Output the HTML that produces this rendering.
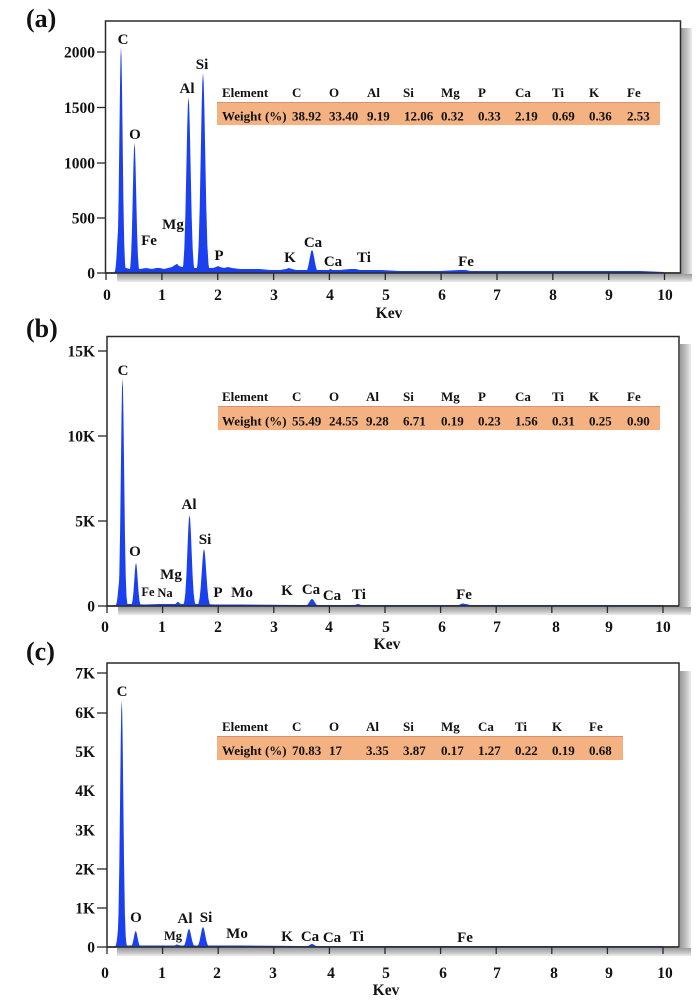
<!DOCTYPE html>
<html><head><meta charset="utf-8"><style>
html,body{margin:0;padding:0;background:#fff;}
svg{display:block;}
text{font-family:"Liberation Serif",serif;font-weight:bold;fill:#111;}
.t{font-size:15.5px;}
.p{font-size:15px;}
.s{font-size:12.5px;}
.tb{font-size:13px;}
.L{font-size:26px;}
</style></head><body>
<svg width="700" height="1008" viewBox="0 0 700 1008" xmlns="http://www.w3.org/2000/svg">
<defs>
<linearGradient id="shR" x1="0" y1="0" x2="1" y2="0">
<stop offset="0" stop-color="#9a9a9a"/><stop offset="0.55" stop-color="#c2c2c2"/><stop offset="1" stop-color="#ededed"/>
</linearGradient>
<linearGradient id="shB" x1="0" y1="0" x2="0" y2="1">
<stop offset="0" stop-color="#9a9a9a"/><stop offset="0.55" stop-color="#c2c2c2"/><stop offset="1" stop-color="#ededed"/>
</linearGradient>
</defs>
<rect width="700" height="1008" fill="#fff"/>

<!-- ============ PANEL A ============ -->
<text class="L" x="26" y="27">(a)</text>
<rect x="681" y="28" width="11" height="254" fill="url(#shR)"/>
<rect x="117" y="274" width="575" height="8" fill="url(#shB)"/>
<rect x="105.5" y="21" width="575" height="252" fill="#fff" stroke="#2a2a2a" stroke-width="1.5"/>
<g fill="#1a40f0">
<path d="M117,273 L117,270 L124,269 L126,268 L130,269 L134,268 L140,269 L146,268 L152,269 L156,268 L160,268 L164,269 L168,268 L172,267 L175,265 L177,264 L179,266 L182,267 L186,267 L195,268 L208,268 L213,268 L216,267 L218,266 L220,267 L224,268 L228,267 L232,268 L240,269 L250,269 L260,269 L270,270 L280,270 L286,269 L289,268 L292,269 L296,270 L300,270 L320,270 L340,270 L350,269 L356,269 L360,270 L380,270 L400,271 L440,271 L460,270 L466,270 L470,271 L500,271 L520,271 L560,271 L600,271 L640,271 L664,272 L664,273 Z"/>
<path id="g" d="M-3.6,0 L-3,0.011 L-2.5,0.044 L-2,0.135 L-1.5,0.325 L-1,0.607 L-0.6,0.835 L-0.3,0.956 L0,1 L0.3,0.956 L0.6,0.835 L1,0.607 L1.5,0.325 L2,0.135 L2.5,0.044 L3,0.011 L3.6,0 Z" transform="translate(121,273) scale(1.6,-226)"/>
<path d="M-3.6,0 L-3,0.011 L-2.5,0.044 L-2,0.135 L-1.5,0.325 L-1,0.607 L-0.6,0.835 L-0.3,0.956 L0,1 L0.3,0.956 L0.6,0.835 L1,0.607 L1.5,0.325 L2,0.135 L2.5,0.044 L3,0.011 L3.6,0 Z" transform="translate(118.5,273) scale(1.4,-45)"/>
<path d="M-3.6,0 L-3,0.011 L-2.5,0.044 L-2,0.135 L-1.5,0.325 L-1,0.607 L-0.6,0.835 L-0.3,0.956 L0,1 L0.3,0.956 L0.6,0.835 L1,0.607 L1.5,0.325 L2,0.135 L2.5,0.044 L3,0.011 L3.6,0 Z" transform="translate(134.5,273) scale(1.7,-130)"/>
<path d="M-3.6,0 L-3,0.011 L-2.5,0.044 L-2,0.135 L-1.5,0.325 L-1,0.607 L-0.6,0.835 L-0.3,0.956 L0,1 L0.3,0.956 L0.6,0.835 L1,0.607 L1.5,0.325 L2,0.135 L2.5,0.044 L3,0.011 L3.6,0 Z" transform="translate(177,273) scale(2,-9)"/>
<path d="M-3.6,0 L-3,0.011 L-2.5,0.044 L-2,0.135 L-1.5,0.325 L-1,0.607 L-0.6,0.835 L-0.3,0.956 L0,1 L0.3,0.956 L0.6,0.835 L1,0.607 L1.5,0.325 L2,0.135 L2.5,0.044 L3,0.011 L3.6,0 Z" transform="translate(188.5,273) scale(2.1,-176)"/>
<path d="M-3.6,0 L-3,0.011 L-2.5,0.044 L-2,0.135 L-1.5,0.325 L-1,0.607 L-0.6,0.835 L-0.3,0.956 L0,1 L0.3,0.956 L0.6,0.835 L1,0.607 L1.5,0.325 L2,0.135 L2.5,0.044 L3,0.011 L3.6,0 Z" transform="translate(203,273) scale(2.2,-200)"/>
<path d="M-3.6,0 L-3,0.011 L-2.5,0.044 L-2,0.135 L-1.5,0.325 L-1,0.607 L-0.6,0.835 L-0.3,0.956 L0,1 L0.3,0.956 L0.6,0.835 L1,0.607 L1.5,0.325 L2,0.135 L2.5,0.044 L3,0.011 L3.6,0 Z" transform="translate(218,273) scale(2,-5)"/>
<path d="M-3.6,0 L-3,0.011 L-2.5,0.044 L-2,0.135 L-1.5,0.325 L-1,0.607 L-0.6,0.835 L-0.3,0.956 L0,1 L0.3,0.956 L0.6,0.835 L1,0.607 L1.5,0.325 L2,0.135 L2.5,0.044 L3,0.011 L3.6,0 Z" transform="translate(290,273) scale(2,-4)"/>
<path d="M-3.6,0 L-3,0.011 L-2.5,0.044 L-2,0.135 L-1.5,0.325 L-1,0.607 L-0.6,0.835 L-0.3,0.956 L0,1 L0.3,0.956 L0.6,0.835 L1,0.607 L1.5,0.325 L2,0.135 L2.5,0.044 L3,0.011 L3.6,0 Z" transform="translate(312,273) scale(2.4,-23)"/>
<path d="M-3.6,0 L-3,0.011 L-2.5,0.044 L-2,0.135 L-1.5,0.325 L-1,0.607 L-0.6,0.835 L-0.3,0.956 L0,1 L0.3,0.956 L0.6,0.835 L1,0.607 L1.5,0.325 L2,0.135 L2.5,0.044 L3,0.011 L3.6,0 Z" transform="translate(330.5,273) scale(2,-4)"/>
<path d="M-3.6,0 L-3,0.011 L-2.5,0.044 L-2,0.135 L-1.5,0.325 L-1,0.607 L-0.6,0.835 L-0.3,0.956 L0,1 L0.3,0.956 L0.6,0.835 L1,0.607 L1.5,0.325 L2,0.135 L2.5,0.044 L3,0.011 L3.6,0 Z" transform="translate(357,273) scale(2.5,-3.5)"/>
<path d="M-3.6,0 L-3,0.011 L-2.5,0.044 L-2,0.135 L-1.5,0.325 L-1,0.607 L-0.6,0.835 L-0.3,0.956 L0,1 L0.3,0.956 L0.6,0.835 L1,0.607 L1.5,0.325 L2,0.135 L2.5,0.044 L3,0.011 L3.6,0 Z" transform="translate(463,273) scale(3,-2.5)"/>
</g>
<line x1="105.5" y1="273" x2="680.5" y2="273" stroke="#2a2a2a" stroke-width="1.5"/>
<g stroke="#2a2a2a" stroke-width="1.3">
<line x1="106" y1="273" x2="106" y2="280"/><line x1="161.9" y1="273" x2="161.9" y2="280"/><line x1="217.7" y1="273" x2="217.7" y2="280"/><line x1="273.6" y1="273" x2="273.6" y2="280"/><line x1="329.4" y1="273" x2="329.4" y2="280"/><line x1="385.3" y1="273" x2="385.3" y2="280"/><line x1="441.1" y1="273" x2="441.1" y2="280"/><line x1="497" y1="273" x2="497" y2="280"/><line x1="552.8" y1="273" x2="552.8" y2="280"/><line x1="608.7" y1="273" x2="608.7" y2="280"/><line x1="664.5" y1="273" x2="664.5" y2="280"/>
<line x1="97" y1="52" x2="105" y2="52"/><line x1="97" y1="107.5" x2="105" y2="107.5"/><line x1="97" y1="163" x2="105" y2="163"/><line x1="97" y1="218" x2="105" y2="218"/><line x1="97" y1="273" x2="105" y2="273"/>
</g>
<g class="t" text-anchor="end">
<text x="95" y="57.5">2000</text><text x="95" y="113">1500</text><text x="95" y="168.5">1000</text><text x="95" y="223.5">500</text><text x="95" y="278.5">0</text>
</g>
<g class="t" text-anchor="middle">
<text x="107" y="300">0</text><text x="162" y="300">1</text><text x="218" y="300">2</text><text x="274" y="300">3</text><text x="330" y="300">4</text><text x="386" y="300">5</text><text x="442" y="300">6</text><text x="497" y="300">7</text><text x="553" y="300">8</text><text x="609" y="300">9</text><text x="665" y="300">10</text>
<text x="389" y="318">Kev</text>
</g>
<g class="p" text-anchor="middle">
<text x="123" y="44">C</text><text x="135" y="139">O</text><text x="202" y="69">Si</text><text x="187" y="93">Al</text><text x="173" y="229">Mg</text><text x="149" y="245">Fe</text><text x="219" y="260">P</text><text x="290" y="262">K</text><text x="313" y="247">Ca</text><text x="333" y="266">Ca</text><text x="364" y="262">Ti</text><text x="466" y="266">Fe</text>
</g>
<rect x="217" y="102" width="443" height="23" fill="#f4b283"/>
<line x1="217" y1="102.5" x2="660" y2="102.5" stroke="#d6926a" stroke-width="1"/>
<g class="tb">
<text x="222" y="97">Element</text><text x="292" y="97">C</text><text x="329" y="97">O</text><text x="367" y="97">Al</text><text x="403" y="97">Si</text><text x="441" y="97">Mg</text><text x="478" y="97">P</text><text x="515" y="97">Ca</text><text x="552" y="97">Ti</text><text x="589" y="97">K</text><text x="627" y="97">Fe</text>
<text x="222" y="120.5">Weight (%)</text><text x="292" y="120.5">38.92</text><text x="329" y="120.5">33.40</text><text x="367" y="120.5">9.19</text><text x="404" y="120.5">12.06</text><text x="441" y="120.5">0.32</text><text x="478" y="120.5">0.33</text><text x="515" y="120.5">2.19</text><text x="552" y="120.5">0.69</text><text x="589" y="120.5">0.36</text><text x="627" y="120.5">2.53</text>
</g>

<!-- ============ PANEL B ============ -->
<text class="L" x="26" y="337">(b)</text>
<rect x="680" y="344" width="11" height="271" fill="url(#shR)"/>
<rect x="118" y="607" width="573" height="8" fill="url(#shB)"/>
<rect x="107" y="336.5" width="572" height="269.5" fill="#fff" stroke="#2a2a2a" stroke-width="1.5"/>
<g fill="#1a40f0">
<path d="M118,606 L118,604 L130,604 L145,604.5 L160,604 L175,604 L178,603 L181,604 L200,604 L215,604.5 L240,604.5 L300,605 L330,605 L400,605 L460,605 L466,604 L470,605 L663,605 L663,606 Z"/>
<path d="M-3.6,0 L-3,0.011 L-2.5,0.044 L-2,0.135 L-1.5,0.325 L-1,0.607 L-0.6,0.835 L-0.3,0.956 L0,1 L0.3,0.956 L0.6,0.835 L1,0.607 L1.5,0.325 L2,0.135 L2.5,0.044 L3,0.011 L3.6,0 Z" transform="translate(119.5,606) scale(1.4,-25)"/>
<path d="M-3.6,0 L-3,0.011 L-2.5,0.044 L-2,0.135 L-1.5,0.325 L-1,0.607 L-0.6,0.835 L-0.3,0.956 L0,1 L0.3,0.956 L0.6,0.835 L1,0.607 L1.5,0.325 L2,0.135 L2.5,0.044 L3,0.011 L3.6,0 Z" transform="translate(122.5,606) scale(1.6,-228)"/>
<path d="M-3.6,0 L-3,0.011 L-2.5,0.044 L-2,0.135 L-1.5,0.325 L-1,0.607 L-0.6,0.835 L-0.3,0.956 L0,1 L0.3,0.956 L0.6,0.835 L1,0.607 L1.5,0.325 L2,0.135 L2.5,0.044 L3,0.011 L3.6,0 Z" transform="translate(136,606) scale(1.7,-43)"/>
<path d="M-3.6,0 L-3,0.011 L-2.5,0.044 L-2,0.135 L-1.5,0.325 L-1,0.607 L-0.6,0.835 L-0.3,0.956 L0,1 L0.3,0.956 L0.6,0.835 L1,0.607 L1.5,0.325 L2,0.135 L2.5,0.044 L3,0.011 L3.6,0 Z" transform="translate(178,606) scale(2,-4)"/>
<path d="M-3.6,0 L-3,0.011 L-2.5,0.044 L-2,0.135 L-1.5,0.325 L-1,0.607 L-0.6,0.835 L-0.3,0.956 L0,1 L0.3,0.956 L0.6,0.835 L1,0.607 L1.5,0.325 L2,0.135 L2.5,0.044 L3,0.011 L3.6,0 Z" transform="translate(189.5,606) scale(2.1,-91)"/>
<path d="M-3.6,0 L-3,0.011 L-2.5,0.044 L-2,0.135 L-1.5,0.325 L-1,0.607 L-0.6,0.835 L-0.3,0.956 L0,1 L0.3,0.956 L0.6,0.835 L1,0.607 L1.5,0.325 L2,0.135 L2.5,0.044 L3,0.011 L3.6,0 Z" transform="translate(204,606) scale(2.2,-57)"/>
<path d="M-3.6,0 L-3,0.011 L-2.5,0.044 L-2,0.135 L-1.5,0.325 L-1,0.607 L-0.6,0.835 L-0.3,0.956 L0,1 L0.3,0.956 L0.6,0.835 L1,0.607 L1.5,0.325 L2,0.135 L2.5,0.044 L3,0.011 L3.6,0 Z" transform="translate(312,606) scale(2.5,-7)"/>
<path d="M-3.6,0 L-3,0.011 L-2.5,0.044 L-2,0.135 L-1.5,0.325 L-1,0.607 L-0.6,0.835 L-0.3,0.956 L0,1 L0.3,0.956 L0.6,0.835 L1,0.607 L1.5,0.325 L2,0.135 L2.5,0.044 L3,0.011 L3.6,0 Z" transform="translate(358,606) scale(2.5,-2)"/>
<path d="M-3.6,0 L-3,0.011 L-2.5,0.044 L-2,0.135 L-1.5,0.325 L-1,0.607 L-0.6,0.835 L-0.3,0.956 L0,1 L0.3,0.956 L0.6,0.835 L1,0.607 L1.5,0.325 L2,0.135 L2.5,0.044 L3,0.011 L3.6,0 Z" transform="translate(463,606) scale(3,-2.5)"/>
</g>
<line x1="107" y1="606" x2="679" y2="606" stroke="#2a2a2a" stroke-width="1.5"/>
<g stroke="#2a2a2a" stroke-width="1.3">
<line x1="107" y1="606" x2="107" y2="613"/><line x1="162.6" y1="606" x2="162.6" y2="613"/><line x1="218.2" y1="606" x2="218.2" y2="613"/><line x1="273.8" y1="606" x2="273.8" y2="613"/><line x1="329.4" y1="606" x2="329.4" y2="613"/><line x1="385" y1="606" x2="385" y2="613"/><line x1="440.6" y1="606" x2="440.6" y2="613"/><line x1="496.2" y1="606" x2="496.2" y2="613"/><line x1="551.8" y1="606" x2="551.8" y2="613"/><line x1="607.4" y1="606" x2="607.4" y2="613"/><line x1="663" y1="606" x2="663" y2="613"/>
<line x1="98" y1="351" x2="107" y2="351"/><line x1="98" y1="436" x2="107" y2="436"/><line x1="98" y1="521" x2="107" y2="521"/><line x1="98" y1="606" x2="107" y2="606"/>
</g>
<g class="t" text-anchor="end">
<text x="95" y="356.5">15K</text><text x="95" y="441.5">10K</text><text x="95" y="526.5">5K</text><text x="95" y="611.5">0</text>
</g>
<g class="t" text-anchor="middle">
<text x="105" y="632">0</text><text x="162" y="632">1</text><text x="218" y="632">2</text><text x="274" y="632">3</text><text x="329" y="632">4</text><text x="386" y="632">5</text><text x="442" y="632">6</text><text x="497" y="632">7</text><text x="556" y="632">8</text><text x="609" y="632">9</text><text x="663" y="632">10</text>
<text x="387" y="649">Kev</text>
</g>
<g class="p" text-anchor="middle">
<text x="123" y="375">C</text><text x="135" y="556">O</text><text x="189" y="509">Al</text><text x="205" y="544">Si</text><text x="171" y="579">Mg</text><text x="218" y="597">P</text><text x="242" y="597">Mo</text><text x="287" y="595">K</text><text x="311" y="594">Ca</text><text x="332" y="600">Ca</text><text x="359" y="599">Ti</text><text x="464" y="599">Fe</text>
</g>
<g class="s" text-anchor="middle">
<text x="148" y="596">Fe</text><text x="165" y="597">Na</text>
</g>
<rect x="218" y="406" width="442" height="24" fill="#f4b283"/>
<line x1="218" y1="406.5" x2="660" y2="406.5" stroke="#d6926a" stroke-width="1"/>
<g class="tb">
<text x="222" y="401">Element</text><text x="292" y="401">C</text><text x="329" y="401">O</text><text x="366" y="401">Al</text><text x="403" y="401">Si</text><text x="441" y="401">Mg</text><text x="478" y="401">P</text><text x="515" y="401">Ca</text><text x="552" y="401">Ti</text><text x="589" y="401">K</text><text x="627" y="401">Fe</text>
<text x="222" y="425.5">Weight (%)</text><text x="292" y="425.5">55.49</text><text x="329" y="425.5">24.55</text><text x="366" y="425.5">9.28</text><text x="403" y="425.5">6.71</text><text x="441" y="425.5">0.19</text><text x="478" y="425.5">0.23</text><text x="515" y="425.5">1.56</text><text x="552" y="425.5">0.31</text><text x="589" y="425.5">0.25</text><text x="627" y="425.5">0.90</text>
</g>

<!-- ============ PANEL C ============ -->
<text class="L" x="26" y="660">(c)</text>
<rect x="680" y="671" width="11" height="285" fill="url(#shR)"/>
<rect x="117" y="948" width="574" height="8" fill="url(#shB)"/>
<rect x="107" y="663" width="572" height="284" fill="#fff" stroke="#2a2a2a" stroke-width="1.5"/>
<g fill="#1a40f0">
<path d="M117,947 L117,945.5 L150,945.5 L175,945.5 L178,945 L181,945.5 L240,945.5 L300,946 L663,946 L663,947 Z"/>
<path d="M-3.6,0 L-3,0.011 L-2.5,0.044 L-2,0.135 L-1.5,0.325 L-1,0.607 L-0.6,0.835 L-0.3,0.956 L0,1 L0.3,0.956 L0.6,0.835 L1,0.607 L1.5,0.325 L2,0.135 L2.5,0.044 L3,0.011 L3.6,0 Z" transform="translate(119,947) scale(1.4,-22)"/>
<path d="M-3.6,0 L-3,0.011 L-2.5,0.044 L-2,0.135 L-1.5,0.325 L-1,0.607 L-0.6,0.835 L-0.3,0.956 L0,1 L0.3,0.956 L0.6,0.835 L1,0.607 L1.5,0.325 L2,0.135 L2.5,0.044 L3,0.011 L3.6,0 Z" transform="translate(121.7,947) scale(1.6,-247)"/>
<path d="M-3.6,0 L-3,0.011 L-2.5,0.044 L-2,0.135 L-1.5,0.325 L-1,0.607 L-0.6,0.835 L-0.3,0.956 L0,1 L0.3,0.956 L0.6,0.835 L1,0.607 L1.5,0.325 L2,0.135 L2.5,0.044 L3,0.011 L3.6,0 Z" transform="translate(135.7,947) scale(1.8,-16)"/>
<path d="M-3.6,0 L-3,0.011 L-2.5,0.044 L-2,0.135 L-1.5,0.325 L-1,0.607 L-0.6,0.835 L-0.3,0.956 L0,1 L0.3,0.956 L0.6,0.835 L1,0.607 L1.5,0.325 L2,0.135 L2.5,0.044 L3,0.011 L3.6,0 Z" transform="translate(177,947) scale(2,-2.5)"/>
<path d="M-3.6,0 L-3,0.011 L-2.5,0.044 L-2,0.135 L-1.5,0.325 L-1,0.607 L-0.6,0.835 L-0.3,0.956 L0,1 L0.3,0.956 L0.6,0.835 L1,0.607 L1.5,0.325 L2,0.135 L2.5,0.044 L3,0.011 L3.6,0 Z" transform="translate(189,947) scale(2.2,-18)"/>
<path d="M-3.6,0 L-3,0.011 L-2.5,0.044 L-2,0.135 L-1.5,0.325 L-1,0.607 L-0.6,0.835 L-0.3,0.956 L0,1 L0.3,0.956 L0.6,0.835 L1,0.607 L1.5,0.325 L2,0.135 L2.5,0.044 L3,0.011 L3.6,0 Z" transform="translate(203,947) scale(2.2,-20)"/>
<path d="M-3.6,0 L-3,0.011 L-2.5,0.044 L-2,0.135 L-1.5,0.325 L-1,0.607 L-0.6,0.835 L-0.3,0.956 L0,1 L0.3,0.956 L0.6,0.835 L1,0.607 L1.5,0.325 L2,0.135 L2.5,0.044 L3,0.011 L3.6,0 Z" transform="translate(312,947) scale(2.5,-3)"/>
</g>
<line x1="107" y1="947" x2="679" y2="947" stroke="#2a2a2a" stroke-width="1.5"/>
<g stroke="#2a2a2a" stroke-width="1.3">
<line x1="107" y1="947" x2="107" y2="954"/><line x1="162.6" y1="947" x2="162.6" y2="954"/><line x1="218.2" y1="947" x2="218.2" y2="954"/><line x1="273.8" y1="947" x2="273.8" y2="954"/><line x1="329.4" y1="947" x2="329.4" y2="954"/><line x1="385" y1="947" x2="385" y2="954"/><line x1="440.6" y1="947" x2="440.6" y2="954"/><line x1="496.2" y1="947" x2="496.2" y2="954"/><line x1="551.8" y1="947" x2="551.8" y2="954"/><line x1="607.4" y1="947" x2="607.4" y2="954"/><line x1="663" y1="947" x2="663" y2="954"/>
<line x1="97" y1="673" x2="107" y2="673"/><line x1="97" y1="713" x2="107" y2="713"/><line x1="97" y1="869" x2="107" y2="869"/><line x1="97" y1="908" x2="107" y2="908"/><line x1="97" y1="947" x2="107" y2="947"/>
</g>
<g class="t" text-anchor="end">
<text x="95" y="678.5">7K</text><text x="95" y="718">6K</text><text x="95" y="757">5K</text><text x="95" y="796">4K</text><text x="95" y="835.5">3K</text><text x="95" y="874.5">2K</text><text x="95" y="913.5">1K</text><text x="95" y="952.5">0</text>
</g>
<g class="t" text-anchor="middle">
<text x="105" y="978">0</text><text x="162" y="978">1</text><text x="217" y="978">2</text><text x="273" y="978">3</text><text x="331" y="978">4</text><text x="386" y="978">5</text><text x="443" y="978">6</text><text x="497" y="978">7</text><text x="554" y="978">8</text><text x="609" y="978">9</text><text x="665" y="978">10</text>
<text x="386" y="995">Kev</text>
</g>
<g class="p" text-anchor="middle">
<text x="122" y="696">C</text><text x="136" y="922">O</text><text x="185" y="923">Al</text><text x="206" y="922">Si</text><text x="237" y="938">Mo</text><text x="287" y="941">K</text><text x="310" y="941">Ca</text><text x="332" y="942">Ca</text><text x="357" y="941">Ti</text><text x="465" y="942">Fe</text>
</g>
<g class="s" text-anchor="middle">
<text x="173" y="940">Mg</text>
</g>
<rect x="217" y="736" width="406" height="24" fill="#f4b283"/>
<line x1="217" y1="736.5" x2="623" y2="736.5" stroke="#d6926a" stroke-width="1"/>
<g class="tb">
<text x="222" y="731">Element</text><text x="292" y="731">C</text><text x="329" y="731">O</text><text x="366" y="731">Al</text><text x="403" y="731">Si</text><text x="441" y="731">Mg</text><text x="478" y="731">Ca</text><text x="515" y="731">Ti</text><text x="552" y="731">K</text><text x="589" y="731">Fe</text>
<text x="222" y="755">Weight (%)</text><text x="292" y="755">70.83</text><text x="329" y="755">17</text><text x="366" y="755">3.35</text><text x="403" y="755">3.87</text><text x="441" y="755">0.17</text><text x="478" y="755">1.27</text><text x="515" y="755">0.22</text><text x="552" y="755">0.19</text><text x="589" y="755">0.68</text>
</g>
</svg>
</body></html>
